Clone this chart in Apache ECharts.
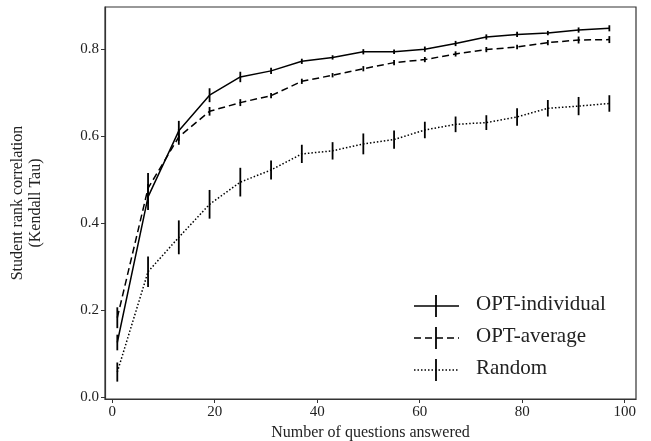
<!DOCTYPE html>
<html>
<head>
<meta charset="utf-8">
<script src="https://cdn.jsdelivr.net/npm/echarts@6/dist/echarts.min.js"></script>
<style>
  html, body { margin: 0; padding: 0; background: #fff; }
  #chart { width: 651px; height: 441px; }
</style>
</head>
<body>
<div id="chart"></div>
<script>
// data
const questions = [1, 7, 13, 19, 25, 31, 37, 43, 49, 55, 61, 67, 73, 79, 85, 91, 97];

const indivMean = [0.125, 0.46, 0.612, 0.694, 0.736, 0.750, 0.772, 0.781, 0.794, 0.794, 0.800, 0.813, 0.828, 0.834, 0.837, 0.844, 0.848];
const indivErr  = [0.018, 0.03, 0.023, 0.016, 0.012, 0.007, 0.006, 0.005, 0.006, 0.005, 0.006, 0.006, 0.006, 0.006, 0.005, 0.006, 0.007];

const avgMean = [0.182, 0.48, 0.598, 0.657, 0.677, 0.693, 0.726, 0.740, 0.755, 0.769, 0.776, 0.789, 0.799, 0.805, 0.815, 0.821, 0.822];
const avgErr  = [0.024, 0.035, 0.018, 0.01, 0.008, 0.006, 0.006, 0.005, 0.006, 0.006, 0.006, 0.006, 0.006, 0.005, 0.006, 0.008, 0.008];

const randMean = [0.057, 0.288, 0.367, 0.443, 0.494, 0.522, 0.559, 0.566, 0.582, 0.592, 0.614, 0.627, 0.631, 0.644, 0.664, 0.669, 0.675];
const randErr  = [0.022, 0.035, 0.039, 0.033, 0.033, 0.022, 0.021, 0.02, 0.024, 0.021, 0.019, 0.018, 0.017, 0.02, 0.019, 0.021, 0.019];

const seriesNames = ['OPT-individual', 'OPT-average', 'Random'];
const xTicks = [0, 20, 40, 60, 80, 100];
const yTicks = [0, 0.2, 0.4, 0.6, 0.8];

const font = 'Liberation Serif';
const dashes = [null, [7, 4], [1.5, 2]];

const chart = echarts.init(document.getElementById('chart'));

function pairs(ys) {
  return questions.map((q, i) => [q, ys[i]]);
}

function errorSeries(means, errs) {
  return {
    type: 'custom',
    silent: true,
    z: 3,
    data: questions.map((q, i) => [q, means[i] - errs[i], means[i] + errs[i]]),
    renderItem: function (params, api) {
      const lo = api.coord([api.value(0), api.value(1)]);
      const hi = api.coord([api.value(0), api.value(2)]);
      return {
        type: 'line',
        shape: { x1: lo[0], y1: lo[1], x2: hi[0], y2: hi[1] },
        style: { stroke: '#000', lineWidth: 1.8 }
      };
    }
  };
}

function lineSeries(name, means, dash) {
  return {
    name: name,
    type: 'line',
    data: pairs(means),
    symbol: 'none',
    z: 2,
    lineStyle: { color: '#000', width: 1.5, type: dash || 'solid' }
  };
}

// legend drawn by hand: line with a vertical error tick through it
const legendGraphic = [];
seriesNames.forEach((name, i) => {
  const y = 306 + i * 32;
  legendGraphic.push({
    type: 'line',
    shape: { x1: 414, y1: y, x2: 459, y2: y },
    style: { stroke: '#000', lineWidth: 1.5, lineDash: dashes[i] }
  });
  legendGraphic.push({
    type: 'line',
    shape: { x1: 436, y1: y - 11, x2: 436, y2: y + 11 },
    style: { stroke: '#000', lineWidth: 1.8 }
  });
  legendGraphic.push({
    type: 'text',
    left: 476,
    top: y - 12,
    style: { text: name, fill: '#222', font: '21px "' + font + '"' }
  });
});

const option = {
  animation: false,
  backgroundColor: '#fff',
  textStyle: { fontFamily: font },
  grid: {
    left: 105, right: 15, top: 7, bottom: 42,
    outerBoundsMode: 'none',
    containLabel: false,
    show: true, borderColor: '#333', borderWidth: 1.2, backgroundColor: 'transparent'
  },
  xAxis: {
    type: 'value',
    min: -1.4,
    max: 102.2,
    name: 'Number of questions answered',
    nameLocation: 'middle',
    nameGap: 26,
    nameTextStyle: { fontSize: 16, color: '#222', fontFamily: font },
    axisLine: { show: true, onZero: false, lineStyle: { color: '#333', width: 1.2 } },
    axisTick: { show: true, length: 4, customValues: xTicks, lineStyle: { color: '#333' } },
    axisLabel: { customValues: xTicks, fontSize: 15, color: '#222', margin: 6, fontFamily: font },
    splitLine: { show: false }
  },
  yAxis: {
    type: 'value',
    min: -0.005,
    max: 0.897,
    name: 'Student rank correlation\n(Kendall Tau)',
    nameLocation: 'middle',
    nameGap: 60,
    nameTextStyle: { fontSize: 16, color: '#222', lineHeight: 18, fontFamily: font },
    axisLine: { show: true, onZero: false, lineStyle: { color: '#333', width: 1.2 } },
    axisTick: { show: true, length: 4, customValues: yTicks, lineStyle: { color: '#333' } },
    axisLabel: {
      customValues: yTicks, fontSize: 15, color: '#222', margin: 6, fontFamily: font,
      formatter: v => v.toFixed(1)
    },
    splitLine: { show: false }
  },
  graphic: legendGraphic,
  series: [
    lineSeries(seriesNames[0], indivMean, 'solid'),
    lineSeries(seriesNames[1], avgMean, [7, 4]),
    lineSeries(seriesNames[2], randMean, [1.5, 2]),
    errorSeries(indivMean, indivErr),
    errorSeries(avgMean, avgErr),
    errorSeries(randMean, randErr)
  ]
};

chart.setOption(option);
</script>
</body>
</html>
